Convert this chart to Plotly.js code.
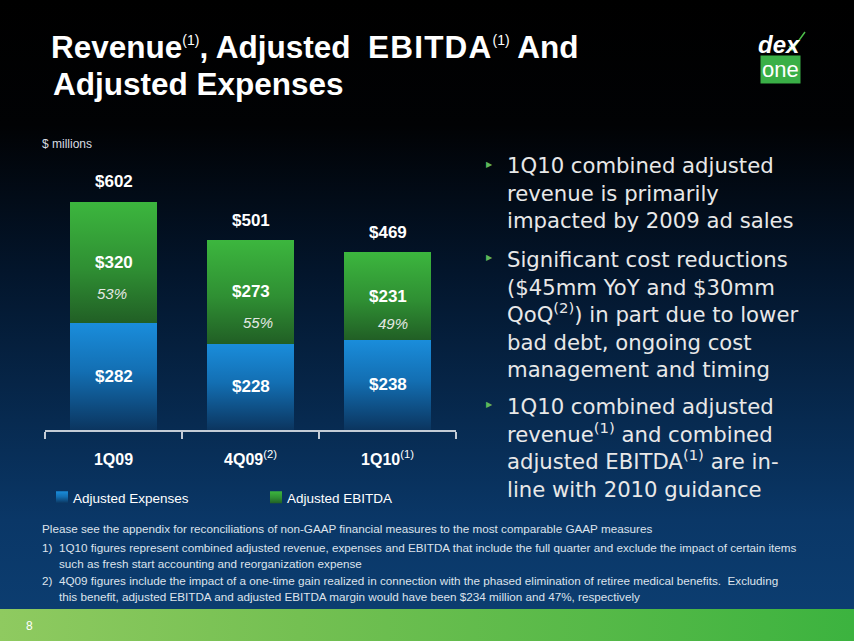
<!DOCTYPE html>
<html>
<head>
<meta charset="utf-8">
<script src="https://cdn.plot.ly/plotly-3.0.1.min.js"></script>
<style>
  html, body { margin: 0; padding: 0; }
  body {
    width: 854px; height: 641px; overflow: hidden;
    background:
      linear-gradient(to right, #8fca60 0%, #74c052 35%, #3cb33f 100%) 0 609px / 100% 32px no-repeat,
      linear-gradient(to bottom, #000000 0px, #010204 125px, #03152b 270px, #072a50 420px, #0a3767 520px, #0c3d70 609px);
  }
  #chart { width: 854px; height: 641px; }
</style>
</head>
<body>
<div id="chart"></div>
<script>
// ---- data ----
const categories = ['1Q09', '4Q09', '1Q10'];
const tickLabels = ['<b>1Q09</b>', '<b>4Q09</b><sup>(2)</sup>', '<b>1Q10</b><sup>(1)</sup>'];
const adjustedExpenses = [282, 228, 238];
const adjustedEbitda = [320, 273, 231];
const revenueTotals = [602, 501, 469];
const ebitdaMargins = ['53%', '55%', '49%'];
const seriesNames = ['Adjusted Expenses', 'Adjusted EBITDA'];

const bullets = [
  ['1Q10 combined adjusted', 'revenue is primarily', 'impacted by 2009 ad sales'],
  ['Significant cost reductions', '($45mm YoY and $30mm', 'QoQ<sup>(2)</sup>) in part due to lower', 'bad debt, ongoing cost', 'management and timing'],
  ['1Q10 combined adjusted', 'revenue<sup>(1)</sup> and combined', 'adjusted EBITDA<sup>(1)</sup> are in-', 'line with 2010 guidance']
];
const footnotes = [
  'Please see the appendix for reconciliations of non-GAAP financial measures to the most comparable GAAP measures',
  '1Q10 figures represent combined adjusted revenue, expenses and EBITDA that include the full quarter and exclude the impact of certain items',
  'such as fresh start accounting and reorganization expense',
  '4Q09 figures include the impact of a one-time gain realized in connection with the phased elimination of retiree medical benefits.  Excluding',
  'this benefit, adjusted EBITDA and adjusted EBITDA margin would have been $234 million and 47%, respectively'
];

// ---- geometry helpers (pixel -> paper) ----
const ML = 45, MR = 398, MT = 140, MB = 211;
const PW = 854 - ML - MR, PH = 641 - MT - MB;
const px = x => (x - ML) / PW;
const py = y => (641 - MB - y) / PH;

const traces = [
  { type: 'bar', name: seriesNames[0], x: categories, y: adjustedExpenses, legend: 'legend',
    marker: { color: '#1679c2', line: { width: 0 } }, hoverinfo: 'skip' },
  { type: 'bar', name: seriesNames[1], x: categories, y: adjustedEbitda, legend: 'legend2',
    marker: { color: '#33a03a', line: { width: 0 } }, hoverinfo: 'skip' }
];

const ann = [];
const white = '#ffffff';
categories.forEach((c, i) => {
  ann.push({ x: c, y: revenueTotals[i], xref: 'x', yref: 'y', text: '<b>$' + revenueTotals[i] + '</b>',
    showarrow: false, yshift: 20, font: { family: 'Arial', size: 17, color: white } });
  const ebMid = adjustedExpenses[i] + adjustedEbitda[i] / 2;
  ann.push({ x: c, y: ebMid, xref: 'x', yref: 'y', text: '<b>$' + adjustedEbitda[i] + '</b>',
    showarrow: false, font: { family: 'Arial', size: 17, color: white } });
  ann.push({ x: c, y: ebMid, xref: 'x', yref: 'y', text: '<i>' + ebitdaMargins[i] + '</i>',
    showarrow: false, yshift: [-31, -31, -27][i], xshift: [-2, 7, 5][i],
    font: { family: 'Arial', size: 15, color: '#e4e8e4' } });
  ann.push({ x: c, y: adjustedExpenses[i] / 2, xref: 'x', yref: 'y', text: '<b>$' + adjustedExpenses[i] + '</b>',
    showarrow: false, font: { family: 'Arial', size: 17, color: white } });
});

// title line 2
ann.push({ xref: 'paper', yref: 'paper', x: px(51), y: py(84), xanchor: 'left', yanchor: 'middle',
  text: '<b>Adjusted Expenses</b>', showarrow: false, font: { family: 'Arial', size: 31.5, color: white } });
// units
ann.push({ xref: 'paper', yref: 'paper', x: px(40), y: py(144), xanchor: 'left', yanchor: 'middle',
  text: '$ millions', showarrow: false, font: { family: 'Arial', size: 12, color: '#d8dce2' } });
// logo
ann.push({ xref: 'paper', yref: 'paper', x: px(779), y: py(45), xanchor: 'center', yanchor: 'middle',
  text: '<b><i>dex</i></b>', showarrow: false, font: { family: 'Arial', size: 24, color: white } });
ann.push({ xref: 'paper', yref: 'paper', x: px(780), y: py(69), xanchor: 'center', yanchor: 'middle',
  text: 'one', showarrow: false, bgcolor: '#3aaf47', borderpad: 1,
  font: { family: 'Arial', size: 22, color: white } });

// bullets
const bulletMid = [193, 314, 448];
const bulletTop = [166, 259, 406];
bullets.forEach((lines, k) => {
  ann.push({ xref: 'paper', yref: 'paper', x: px(506), y: py(bulletMid[k]), xanchor: 'left', yanchor: 'middle',
    align: 'left', text: lines.join('<br>'), showarrow: false, borderpad: 0,
    font: { family: 'DejaVu Sans', size: 21.2, color: '#e8e8e8' } });
  ann.push({ xref: 'paper', yref: 'paper', x: px(489), y: py(bulletTop[k] - 2), xanchor: 'center', yanchor: 'middle',
    text: '▶', showarrow: false, font: { family: 'DejaVu Sans', size: 8, color: '#5fb85a' } });
});

// footnotes
const fnFont = { family: 'Arial', size: 11.7, color: '#dde3ec' };
const fnY = [528, 547, 563, 580, 596];
const fnX = [40, 57, 57, 57, 57];
footnotes.forEach((t, k) => {
  ann.push({ xref: 'paper', yref: 'paper', x: px(fnX[k]), y: py(fnY[k]), xanchor: 'left', yanchor: 'middle',
    text: t, showarrow: false, font: fnFont });
});
ann.push({ xref: 'paper', yref: 'paper', x: px(40), y: py(547), xanchor: 'left', yanchor: 'middle',
  text: '1)', showarrow: false, font: fnFont });
ann.push({ xref: 'paper', yref: 'paper', x: px(40), y: py(580), xanchor: 'left', yanchor: 'middle',
  text: '2)', showarrow: false, font: fnFont });
// page number
ann.push({ xref: 'paper', yref: 'paper', x: px(29), y: py(626), xanchor: 'center', yanchor: 'middle',
  text: '8', showarrow: false, font: { family: 'Arial', size: 12, color: '#ffffff' } });

const shapes = [
  { type: 'path', xref: 'paper', yref: 'paper',
    path: `M${px(789)},${py(46)} L${px(792)},${py(50)} L${px(805)},${py(32)}`,
    line: { color: '#4cc04a', width: 1.5 } }
];

const supSmall = s => `<sup><span style="font-size:14px;font-weight:normal">${s}</span></sup>`;
const legendBase = { orientation: 'h', xref: 'container', yref: 'container',
  xanchor: 'left', yanchor: 'top', font: { family: 'Arial', size: 13.5, color: '#ffffff' },
  bgcolor: 'rgba(0,0,0,0)' };

const layout = {
  width: 854, height: 641,
  margin: { l: ML, r: MR, t: MT, b: MB, pad: 0 },
  paper_bgcolor: 'rgba(0,0,0,0)', plot_bgcolor: 'rgba(0,0,0,0)',
  barmode: 'stack', bargap: 0.37,
  showlegend: true,
  title: { text: 'Revenue' + supSmall('(1)') + ', Adjusted  <span style="letter-spacing:1.2px">EBITDA</span>' + supSmall('(1)') + ' And',
    font: { family: 'Arial', size: 31.5, color: '#ffffff', weight: 'bold' },
    xref: 'container', yref: 'container', x: 51 / 854, xanchor: 'left', y: 1 - 47 / 641, yanchor: 'middle' },
  xaxis: { type: 'category', tickvals: categories, ticktext: tickLabels, range: [-0.5, 2.5],
    showline: true, linecolor: '#c4ccd6', linewidth: 1.5, ticks: 'outside', tickson: 'boundaries',
    ticklen: 7, tickcolor: '#c4ccd6', tickwidth: 1.5, showgrid: false, zeroline: false,
    tickfont: { family: 'Arial', size: 16, color: '#ffffff' }, ticklabelstandoff: 14, fixedrange: true },
  yaxis: { range: [0, PH / 0.379], visible: false, showgrid: false, zeroline: false, fixedrange: true },
  legend: Object.assign({}, legendBase, { x: 33 / 854, y: 1 - 482 / 641 }),
  legend2: Object.assign({}, legendBase, { x: 247 / 854, y: 1 - 482 / 641 }),
  annotations: ann,
  shapes: shapes,
  hovermode: false
};

Plotly.newPlot('chart', traces, layout, { displayModeBar: false, staticPlot: true }).then(gd => {
  const svg = gd.querySelector('.main-svg');
  const ns = 'http://www.w3.org/2000/svg';
  let defs = svg.querySelector('defs');
  if (!defs) { defs = document.createElementNS(ns, 'defs'); svg.insertBefore(defs, svg.firstChild); }
  function grad(id, stops) {
    const g = document.createElementNS(ns, 'linearGradient');
    g.setAttribute('id', id); g.setAttribute('x1', '0'); g.setAttribute('y1', '0');
    g.setAttribute('x2', '0'); g.setAttribute('y2', '1');
    stops.forEach(([o, c]) => {
      const s = document.createElementNS(ns, 'stop');
      s.setAttribute('offset', o); s.setAttribute('stop-color', c); g.appendChild(s);
    });
    defs.appendChild(g);
  }
  grad('gBlue', [['0', '#1a8ddb'], ['0.45', '#136fb3'], ['1', '#0b355f']]);
  grad('gGreen', [['0', '#3cb63e'], ['0.55', '#2f8f33'], ['1', '#215f25']]);
  const ids = ['gBlue', 'gGreen'];
  gd.querySelectorAll('.barlayer .trace').forEach((t, i) => {
    t.querySelectorAll('path').forEach(p => { p.style.fill = `url(#${ids[i]})`; });
  });
  const legends = [gd.querySelector('.legend'), gd.querySelector('.legend2')];
  legends.forEach((lg, i) => {
    if (!lg) return;
    lg.querySelectorAll('.legendpoints').forEach(g => {
      g.setAttribute('transform', 'translate(9,0)');
      g.querySelectorAll('path').forEach(p => { p.style.fill = `url(#${ids[i]})`; });
    });
  });
});
</script>
</body>
</html>
